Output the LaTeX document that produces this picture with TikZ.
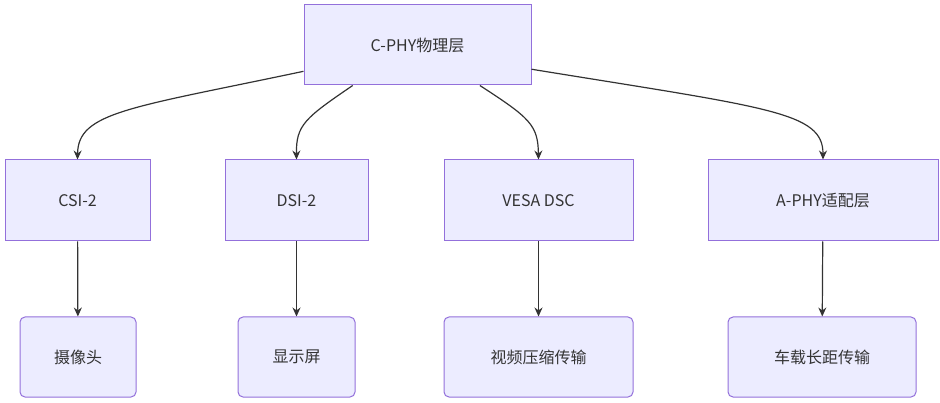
\documentclass[tikz,border=0pt]{standalone}
\usepackage{fontspec}
\setmainfont{Liberation Sans}
\newfontfamily\cjk{Noto Sans CJK SC}
\usetikzlibrary{arrows.meta}
\definecolor{nodefill}{HTML}{ECECFF}
\definecolor{nodeline}{HTML}{9370DB}
\definecolor{txt}{HTML}{333333}
\begin{document}
\begin{tikzpicture}[x=1pt,y=-1pt,
  box/.style={draw=nodeline,fill=nodefill,line width=1pt,text=txt,font=\fontsize{16}{19}\selectfont\cjk,inner sep=0pt,anchor=center},
  rbox/.style={box,rounded corners=5pt},
  edge/.style={draw=txt,line width=1.2pt,-{Stealth[length=9pt,width=8pt]}}]
\useasboundingbox (0,0) rectangle (940,403);
\node[box,minimum width=227,minimum height=80] (top) at (417.5,45) {C-PHY物理层};
\node[box,minimum width=145,minimum height=81] (csi) at (77.5,200.5) {CSI-2};
\node[box,minimum width=143,minimum height=81] (dsi) at (296.5,200.5) {DSI-2};
\node[box,minimum width=189,minimum height=81] (vesa) at (538.5,200.5) {VESA DSC};
\node[box,minimum width=230,minimum height=81] (aphy) at (823,200.5) {A-PHY适配层};
\node[rbox,minimum width=116,minimum height=80] (cam) at (78,357) {摄像头};
\node[rbox,minimum width=117,minimum height=80] (disp) at (296.5,357) {显示屏};
\node[rbox,minimum width=189,minimum height=80] (vid) at (538.5,357) {视频压缩传输};
\node[rbox,minimum width=188,minimum height=80] (car) at (822,357) {车载长距传输};
\draw[edge] (top.193) .. controls (130,108) and (78,112) .. (csi.north);
\draw[edge] (top.212.8) .. controls (305,118) and (296,125) .. (dsi.north);
\draw[edge] (top.327.6) .. controls (530,118) and (538,125) .. (vesa.north);
\draw[edge] (top.348.6) .. controls (770,108) and (823,112) .. (aphy.north);
\draw[edge] (csi) -- (cam);
\draw[edge] (dsi) -- (disp);
\draw[edge] (vesa) -- (vid);
\draw[edge] (aphy) -- (car);
\end{tikzpicture}
\end{document}
